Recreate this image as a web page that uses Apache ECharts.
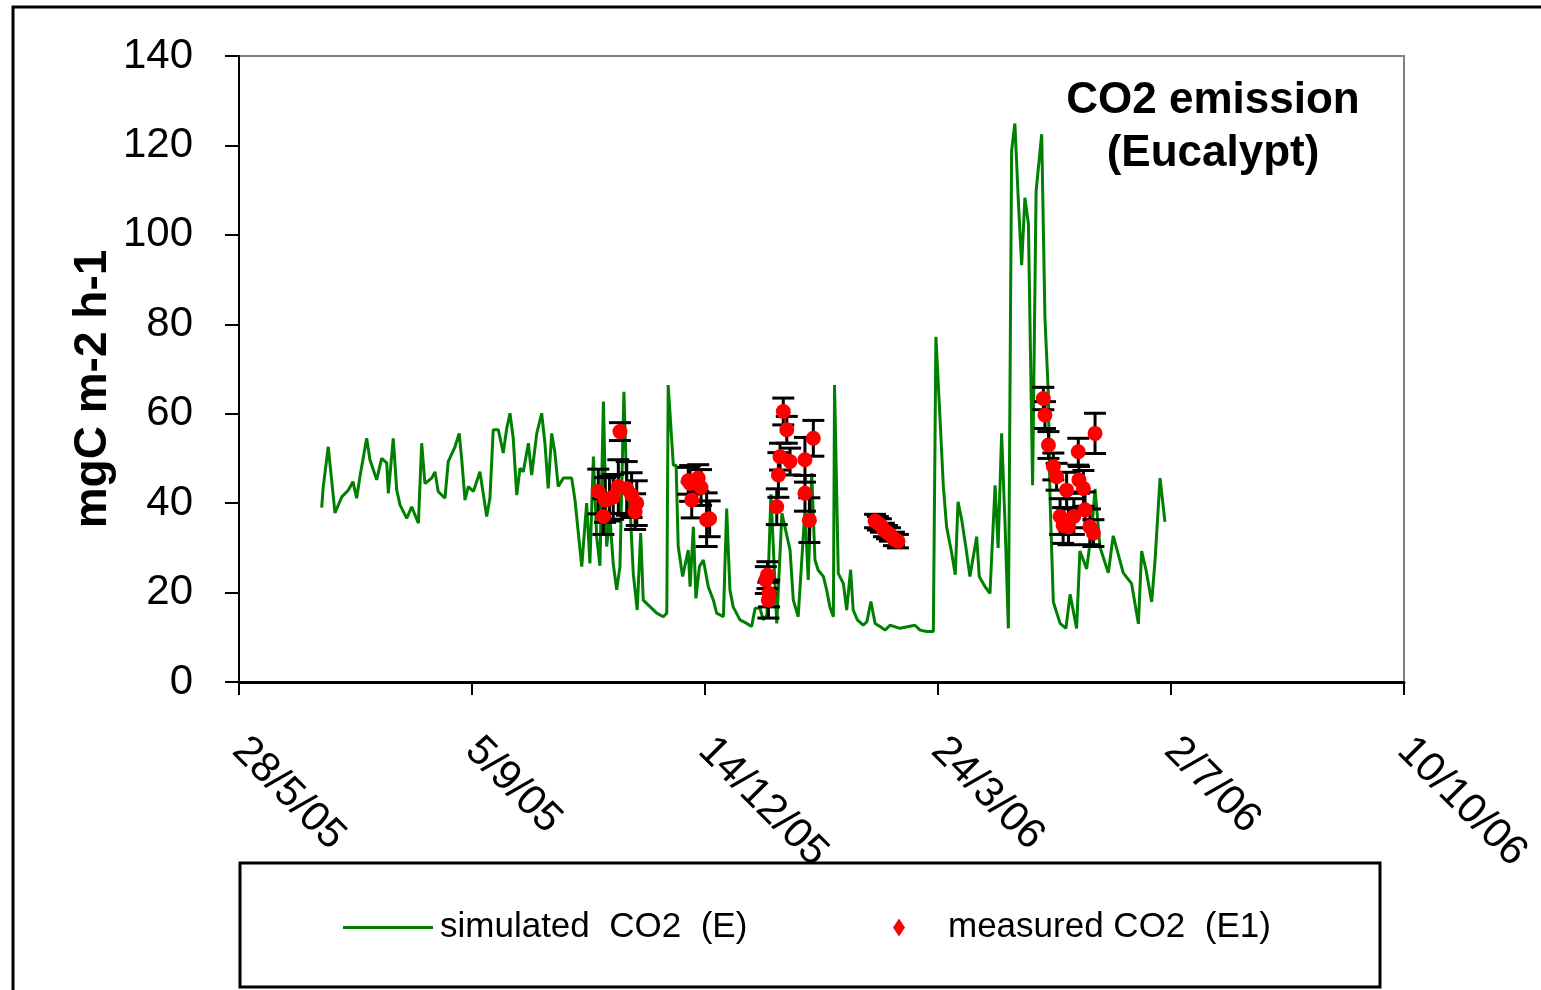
<!DOCTYPE html>
<html>
<head>
<meta charset="utf-8">
<script src="https://cdn.jsdelivr.net/npm/echarts@6/dist/echarts.min.js"></script>
<style>
html,body{margin:0;padding:0;background:#fff;}
#chart{width:1541px;height:990px;}
</style>
</head>
<body>
<div id="chart"></div>
<script>
// x values are days since 28/5/05
const xTickLabels = ['28/5/05', '5/9/05', '14/12/05', '24/3/06', '2/7/06', '10/10/06'];
const yTicks = [0, 20, 40, 60, 80, 100, 120, 140];

const simDays = [35.5, 36.1, 38.3, 41.2, 44.1, 46.9, 48.9, 50.5, 51.9, 54.8, 56.2, 59.1, 61.2, 63.4, 64.1, 66.2, 67.7, 69.1, 72, 74.1,
  77, 78.4, 79.8, 82.7, 84.1, 85.5, 88.4, 89.8, 92.7, 94.5, 95.6, 97, 98.4, 100.6, 103.4, 104.8, 106.3, 107.7, 109.1, 111.3,
  113.4, 114.9, 116.3, 117.7, 119.2, 120.6, 122, 124.2, 125.6, 127.8, 129.9, 131.3, 132.7, 134.2, 135.6, 137, 139.2, 142.8, 144.2, 147.1,
  149.2, 150.6, 152.1, 153.5, 154.9, 156.4, 157.8, 159.2, 160.6, 162.1, 163.5, 165.2, 166.4, 168.1, 169.2, 170.9, 172.4, 173.5, 175.7, 179.3,
  182.1, 183.6, 184.2, 186.4, 187.6, 188.5, 190.4, 192.8, 193.6, 195, 196.1, 197.6, 199.3, 201.4, 203.6, 205, 207.9, 209.3, 210.7, 212.1,
  215, 217.9, 220, 221.5, 223.6, 225, 226.6, 228.3, 230.8, 233, 234.3, 236.5, 237.9, 240, 242.9, 244.3, 245.8, 247.2, 248.6, 250.8,
  252.2, 253.6, 255.1, 255.6, 257.2, 259.4, 260.8, 262.5, 263.6, 265.4, 267.9, 269.5, 271.2, 273, 275.1, 277.3, 279.4, 283.7, 290.1, 292.3,
  295.2, 298, 299.1, 300.9, 302.3, 303.7, 305.9, 307.4, 308.6, 310.2, 312, 313.7, 316.6, 317.7, 320.2, 322.3, 324.5, 325.8, 327.3, 328.8,
  330.2, 331.6, 333, 334.5, 335.9, 337.3, 338.8, 340.6, 342.1, 344.5, 345.9, 347.3, 348.1, 349.5, 352.4, 354.9, 356.7, 359.5, 360.9, 363.8,
  366, 367.4, 369.5, 373.1, 375.2, 377.4, 379.5, 383.1, 386, 387.4, 389.3, 391.7, 393.1, 395.3, 397.4];
const simValues = [39, 43.4, 52.6, 37.8, 41.4, 42.9, 44.8, 41.1, 45.9, 54.5, 49.7, 45.2, 50, 49, 42.2, 54.5, 42.9, 39.6, 36.6, 39.2,
  35.5, 53.4, 44.4, 45.6, 47, 42.6, 41.1, 49.3, 52.6, 55.6, 49.7, 40.7, 43.7, 42.6, 47, 42.2, 37, 41.1, 56.4, 56.4,
  51.2, 56.7, 60.1, 54.5, 41.8, 47.8, 47, 53.4, 46.3, 55.6, 60.1, 53.4, 43.3, 55.6, 51.2, 43.7, 45.6, 45.6, 40.7, 25.8,
  40, 26.5, 50.4, 32.5, 26, 62.7, 30.3, 37, 26.5, 20.6, 25.8, 64.9, 43.7, 36.2, 24.3, 16.1, 33.3, 18.3, 17.2, 15.4,
  14.6, 15.4, 66.4, 48.5, 48.5, 30.3, 23.6, 29.5, 21.3, 34.7, 18.7, 25.8, 27.3, 21.3, 18.3, 15.4, 14.6, 38.8, 20.6, 16.8,
  13.9, 13.1, 12.4, 16.5, 16.5, 13.9, 15, 42, 13.1, 37.7, 34.7, 29.5, 18.3, 14.6, 38.5, 22.8, 46.7, 27.3, 25, 23.6,
  20.6, 16.8, 14.6, 66.4, 24.3, 22, 16.1, 25.1, 16.1, 13.9, 12.7, 13.5, 18, 13.1, 12.4, 11.6, 12.7, 12, 12.7, 11.6,
  11.3, 11.3, 77.2, 58.6, 43.7, 34.7, 28.8, 24, 40.3, 36.2, 30, 23.6, 32.5, 23.6, 21.3, 19.8, 44, 30, 55.6, 35,
  12, 118.8, 124.9, 107.4, 93.2, 108.3, 102.5, 44, 109.8, 122.5, 81.4, 65.1, 40.7, 17.9, 13.1, 12, 19.6, 12, 29.3, 25.3,
  34.2, 43.2, 30.2, 24.4, 32.7, 28.5, 24.4, 22, 13, 29.3, 25, 17.9, 26.8, 45.6, 35.8];

const measDays = [154.2, 156.4, 157.1, 159.0, 160.6, 162.8, 163.5, 166.4, 168.5, 170.0, 170.7,
  192.8, 193.6, 194.3, 197.1, 198.3, 200.7, 202.0,
  226.1, 226.8, 227.2, 227.5, 230.8, 231.5, 232.2, 233.6, 235.1, 236.5, 242.9, 242.9, 244.8, 246.5,
  273, 274.2, 275.5, 276.8, 278.1, 279.4, 281.1, 282.8,
  345.2, 345.9, 347.4, 349.5, 350.9, 352.4, 353.7, 355.2, 356, 358.3, 360.2, 360.5, 362.4, 363.1, 365.2, 366.7, 367.4];
const measValues = [42.6, 37, 40.7, 41, 41.4, 43.7, 56, 43.3, 41.8, 38.1, 40,
  45, 44.4, 40.7, 45.6, 43.5, 36.3, 36.5,
  22.8, 23.9, 18.3, 19.8, 39.2, 46.3, 50.4, 60.5, 56.4, 49.3, 49.7, 42.2, 36.2, 54.5,
  36, 35.5, 35, 34, 33.5, 33, 32, 31.5,
  63.4, 59.7, 53, 48.2, 45.9, 37, 35, 42.9, 34.7, 37, 51.5, 45.2, 43.3, 38.5, 34.7, 33.3, 55.6];
const measErr = [5, 4, 5, 5, 5, 6, 2, 6, 5, 4, 5,
  3, 4, 4, 3, 4, 6, 4,
  3, 3, 4, 3, 4, 5, 3, 3, 3, 3, 5, 4, 5, 4,
  1.5, 1.5, 1.5, 1.5, 1.5, 1.5, 1.5, 1.5,
  2.5, 3, 3, 3, 3, 4, 4, 4, 4, 4, 3, 3, 4, 4, 4, 3, 4.5];

const simData = simDays.map((d, i) => [d, simValues[i]]);
const measData = measDays.map((d, i) => [d, measValues[i]]);
const errData = measDays.map((d, i) => [d, measValues[i], measErr[i]]);

const chart = echarts.init(document.getElementById('chart'));
const FONT = '"Liberation Sans", Arial, sans-serif';

chart.setOption({
  animation: false,
  backgroundColor: '#ffffff',
  grid: { left: 239, top: 56, right: 137, bottom: 308, show: true, borderColor: '#808080', borderWidth: 2, backgroundColor: 'transparent' },
  xAxis: {
    type: 'value', min: 0, max: 500, interval: 100,
    axisLine: { show: true, lineStyle: { color: '#000', width: 3 } },
    axisTick: { show: true, length: 13, lineStyle: { color: '#000', width: 2 } },
    splitLine: { show: false },
    axisLabel: {
      rotate: -45, margin: 62, color: '#000', fontFamily: FONT, fontSize: 42,
      formatter: function (v) { return xTickLabels[Math.round(v / 100)] || ''; }
    }
  },
  yAxis: {
    type: 'value', min: 0, max: 140, interval: 20,
    axisLine: { show: true, lineStyle: { color: '#000', width: 2 } },
    axisTick: { show: true, length: 14, lineStyle: { color: '#000', width: 2 } },
    splitLine: { show: false },
    axisLabel: { margin: 46, color: '#000', fontFamily: FONT, fontSize: 42,
      formatter: function (v) { return yTicks.indexOf(v) >= 0 ? String(v) : ''; } }
  },
  legend: [
    { data: [{ name: 'simulated  CO2  (E)', icon: 'rect' }], left: 338, top: 905, itemWidth: 90, itemHeight: 3, z: 20,
      textStyle: { color: '#000', fontFamily: FONT, fontSize: 35, padding: [0, 0, 0, 2] } },
    { data: [{ name: 'measured CO2  (E1)', icon: 'diamond' }], left: 888, top: 905, itemWidth: 12, itemHeight: 18, z: 20,
      textStyle: { color: '#000', fontFamily: FONT, fontSize: 35, padding: [0, 0, 0, 38] } }
  ],
  graphic: [
    { type: 'rect', shape: { x: 13, y: 7, width: 1700, height: 1200 }, style: { fill: 'none', stroke: '#000', lineWidth: 3 }, silent: true, z: -1 },
    { type: 'rect', shape: { x: 240, y: 863, width: 1140, height: 124 }, style: { fill: '#fff', stroke: '#000', lineWidth: 3 }, silent: true, z: 10 },
    { type: 'text', x: 1213, y: 74, style: { text: 'CO2 emission\n(Eucalypt)', textAlign: 'center', font: 'bold 44px ' + FONT, lineHeight: 53, fill: '#000' }, silent: true },
    { type: 'text', x: 93, y: 389, rotation: Math.PI / 2, style: { text: 'mgC m-2 h-1', textAlign: 'center', textVerticalAlign: 'middle', font: 'bold 46px ' + FONT, fill: '#000' }, silent: true }
  ],
  series: [
    { name: 'simulated  CO2  (E)', type: 'line', data: simData, symbol: 'none', lineStyle: { color: '#008000', width: 3 }, itemStyle: { color: '#008000' }, z: 2 },
    { name: 'errbars', type: 'custom', data: errData, z: 3,
      encode: { x: 0, y: 1 },
      renderItem: function (params, api) {
        const x = api.value(0), y = api.value(1), e = api.value(2);
        const top = api.coord([x, y + e]);
        const bot = api.coord([x, y - e]);
        const h = 11;
        const st = { stroke: '#000', lineWidth: 3 };
        return { type: 'group', children: [
          { type: 'line', shape: { x1: top[0], y1: top[1], x2: bot[0], y2: bot[1] }, style: st },
          { type: 'line', shape: { x1: top[0] - h, y1: top[1], x2: top[0] + h, y2: top[1] }, style: st },
          { type: 'line', shape: { x1: bot[0] - h, y1: bot[1], x2: bot[0] + h, y2: bot[1] }, style: st }
        ] };
      }
    },
    { name: 'measured CO2  (E1)', type: 'scatter', data: measData, symbol: 'circle', symbolSize: 15, itemStyle: { color: '#ff0000', opacity: 1 }, z: 4 }
  ]
});
</script>
</body>
</html>
